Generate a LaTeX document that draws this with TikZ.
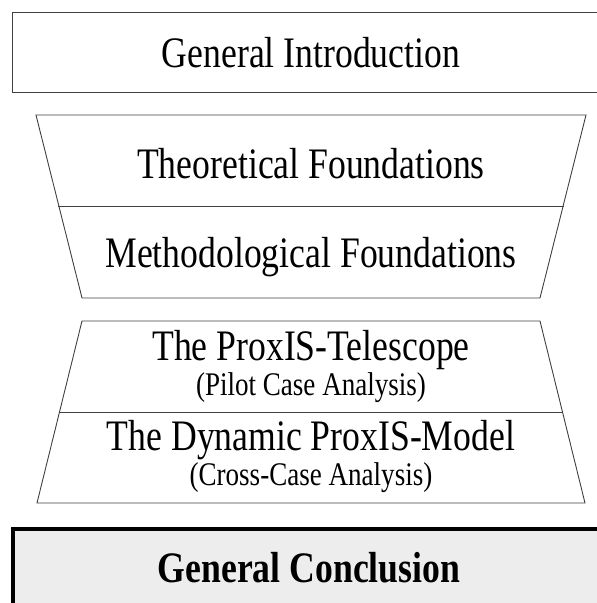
\documentclass[tikz,border=0pt]{standalone}
\usepackage{fontspec}
\setmainfont{Liberation Serif}[FakeStretch=0.82]
\begin{document}
\begin{tikzpicture}[x=1pt,y=-1pt,
  edge/.style={draw=black!75,line width=0.9pt},
  big/.style={font=\fontsize{43.5}{50}\selectfont,inner sep=0pt},
  small/.style={font=\fontsize{33}{38}\selectfont,inner sep=0pt}]
\useasboundingbox (0,0) rectangle (597,603);
\clip (0,0) rectangle (597,603);
% top box
\draw[edge] (12,12) rectangle (612,92);
\node[big] (intro) at (311,53) {General Introduction};
% trapezoid 1
\draw[edge] (36,115) -- (586,115) -- (540,298) -- (82,298) -- cycle;
\draw[edge] (58,206) -- (564,206);
\node[big] (theo) at (311,164) {Theoretical Foundations};
\node[big] (meth) at (311,257) {Methodological Foundations};
% trapezoid 2
\draw[edge] (82,321) -- (540,321) -- (585,503) -- (37,503) -- cycle;
\draw[edge] (59,412) -- (563,412);
\node[big] (tele) at (311,350) {The ProxIS-Telescope};
\node[small] (pilot) at (311,388) {(Pilot Case Analysis)};
\node[big] (dyn) at (311,440) {The Dynamic ProxIS-Model};
\node[small] (cross) at (311,478) {(Cross-Case Analysis)};
% bottom box
\draw[fill=black!7,draw=black,line width=3.5pt] (13,529) rectangle (615,625);
\node[big,font=\fontsize{43.5}{50}\selectfont\bfseries] (concl) at (309,568) {General Conclusion};
\end{tikzpicture}
\end{document}
